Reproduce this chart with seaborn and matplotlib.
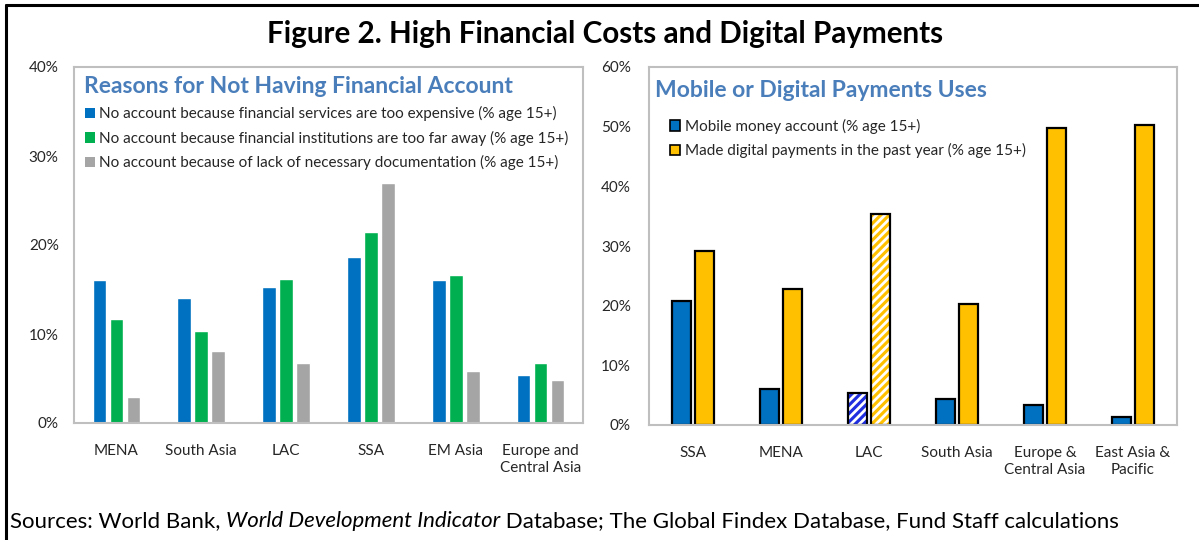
import matplotlib
matplotlib.use("Agg")
import matplotlib.pyplot as plt
import seaborn as sns
import pandas as pd
from matplotlib.patches import Rectangle, Patch
from matplotlib.ticker import FuncFormatter

# ---------------- data ----------------
left_categories = ["MENA", "South Asia", "LAC", "SSA", "EM Asia", "Europe and\nCentral Asia"]
left_series = [
    "No account because financial services are too expensive (% age 15+)",
    "No account because financial institutions are too far away (% age 15+)",
    "No account because of lack of necessary documentation (% age 15+)",
]
too_expensive = [16.1, 14.1, 15.3, 18.7, 16.1, 5.4]
too_far = [11.7, 10.3, 16.2, 21.5, 16.6, 6.7]
no_documents = [2.9, 8.1, 6.7, 27.0, 5.8, 4.8]
left_colors = ["#0070C0", "#00B050", "#A5A5A5"]
left_title = "Reasons for Not Having Financial Account"
left_yticks = [0, 10, 20, 30, 40]

right_categories = ["SSA", "MENA", "LAC", "South Asia", "Europe &\nCentral Asia", "East Asia &\nPacific"]
right_series = [
    "Mobile money account (% age 15+)",
    "Made digital payments in the past year (% age 15+)",
]
mobile_money = [20.8, 6.0, 5.4, 4.3, 3.4, 1.4]
digital_payments = [29.1, 22.8, 35.3, 20.3, 49.7, 50.3]
right_colors = ["#0070C0", "#FFC000"]
right_title = "Mobile or Digital Payments Uses"
right_yticks = [0, 10, 20, 30, 40, 50, 60]
hatched_category = "LAC"

fig_title = "Figure 2. High Financial Costs and Digital Payments"
source_parts = [
    ("Sources: World Bank, ", "normal"),
    ("World Development Indicator", "italic"),
    (" Database; The Global Findex Database, Fund Staff calculations", "normal"),
]

# ---------------- style ----------------
sns.set_style("white")
plt.rcParams["font.family"] = ["Lato", "DejaVu Sans"]
plt.rcParams["hatch.linewidth"] = 2.0
FONT = ["Lato", "DejaVu Sans"]
TITLE_BLUE = "#4A7EBB"
SPINE = "#BFBFBF"
TXT = "#262626"

fig = plt.figure(figsize=(11.99, 5.40), dpi=100)
ax1 = fig.add_axes([74 / 1199, 1 - 423 / 540, (583 - 74) / 1199, (423 - 67) / 540])
ax2 = fig.add_axes([649 / 1199, 1 - 425 / 540, (1177 - 649) / 1199, (425 - 67) / 540])

# left panel
df_left = pd.DataFrame({
    "cat": left_categories * 3,
    "series": [left_series[0]] * 6 + [left_series[1]] * 6 + [left_series[2]] * 6,
    "val": too_expensive + too_far + no_documents,
})
sns.barplot(data=df_left, x="cat", y="val", hue="series", palette=left_colors,
            width=0.6, gap=0.2, ax=ax1, legend=False, saturation=1)

# right panel
df_right = pd.DataFrame({
    "cat": right_categories * 2,
    "series": [right_series[0]] * 6 + [right_series[1]] * 6,
    "val": mobile_money + digital_payments,
})
sns.barplot(data=df_right, x="cat", y="val", hue="series", palette=right_colors,
            width=0.52, gap=0.15, ax=ax2, legend=False, saturation=1,
            edgecolor="black", linewidth=1.6)

# hatched LAC bars in right panel
lac_idx = right_categories.index(hatched_category)
for k, cont in enumerate(ax2.containers):
    p = cont.patches[lac_idx]
    if k == 0:
        p.set_facecolor("#1F2FE0")
    p.set_edgecolor("white")
    p.set_hatch("////")
    p.set_linewidth(0)
    ax2.add_patch(Rectangle(p.get_xy(), p.get_width(), p.get_height(), fill=False,
                            edgecolor="black", linewidth=1.6, zorder=p.get_zorder() + 0.1))

for ax, ymax, yt in [(ax1, 40, left_yticks), (ax2, 60, right_yticks)]:
    ax.set_ylim(0, ymax)
    ax.set_yticks(yt)
    ax.yaxis.set_major_formatter(FuncFormatter(lambda v, p: f"{v:.0f}%"))
    ax.set_xlabel("")
    ax.set_ylabel("")
    for s in ax.spines.values():
        s.set_visible(True)
        s.set_color(SPINE)
        s.set_linewidth(1.5)
    ax.tick_params(axis="both", length=0, labelsize=11, colors=TXT)
    ax.tick_params(axis="x", pad=15)
    ax.grid(False)
    for lbl in ax.get_xticklabels():
        lbl.set_linespacing(1.25)
ax1.tick_params(axis="y", pad=11)
ax2.tick_params(axis="y", pad=13)
ax1.set_xlim(-0.5, 5.5)
ax2.set_xlim(-0.5, 5.5)

# subtitles
ax1.text(0.020, 0.945, left_title, transform=ax1.transAxes, fontsize=16.5, fontweight="bold",
         color=TITLE_BLUE, va="center", ha="left", family=FONT)
ax2.text(0.011, 0.935, right_title, transform=ax2.transAxes, fontsize=16.5, fontweight="bold",
         color=TITLE_BLUE, va="center", ha="left", family=FONT)

# legends
h1 = [Patch(facecolor=c, edgecolor="none") for c in left_colors]
ax1.legend(h1, left_series, loc="upper left", bbox_to_anchor=(0.0, 0.92), frameon=False,
           fontsize=11, handlelength=0.65, handleheight=0.65, handletextpad=0.3,
           labelspacing=0.62, borderaxespad=0.3, labelcolor=TXT)
h2 = [Patch(facecolor=c, edgecolor="black", linewidth=1.2) for c in right_colors]
ax2.legend(h2, right_series, loc="upper left", bbox_to_anchor=(0.02, 0.885), frameon=False,
           fontsize=11, handlelength=0.65, handleheight=0.65, handletextpad=0.3,
           labelspacing=0.62, borderaxespad=0.3, labelcolor=TXT)

# figure title
fig.text(0.505, 0.937, fig_title, ha="center", va="center", fontsize=21.3, fontweight="bold",
         color="black", family=FONT)

# sources line (mixed italic)
prev = None
for txt, style in source_parts:
    if prev is None:
        prev = fig.text(10 / 1199, 1 - 521 / 540, txt, ha="left", va="center", fontsize=16,
                        style=style, color="black", family=FONT)
    else:
        prev = fig.add_artist(matplotlib.text.Annotation(
            txt, xy=(1, 0.5), xycoords=prev, va="center", ha="left", fontsize=16,
            style=style, color="black", family=FONT))

# border lines (top and left)
fig.add_artist(plt.Line2D([6 / 1199, 6 / 1199], [0, 1 - 5 / 540], transform=fig.transFigure,
                          color="black", linewidth=2.2))
fig.add_artist(plt.Line2D([6 / 1199, 1], [1 - 5 / 540, 1 - 5 / 540], transform=fig.transFigure,
                          color="black", linewidth=2.2))

fig.savefig("out.png", dpi=100)
